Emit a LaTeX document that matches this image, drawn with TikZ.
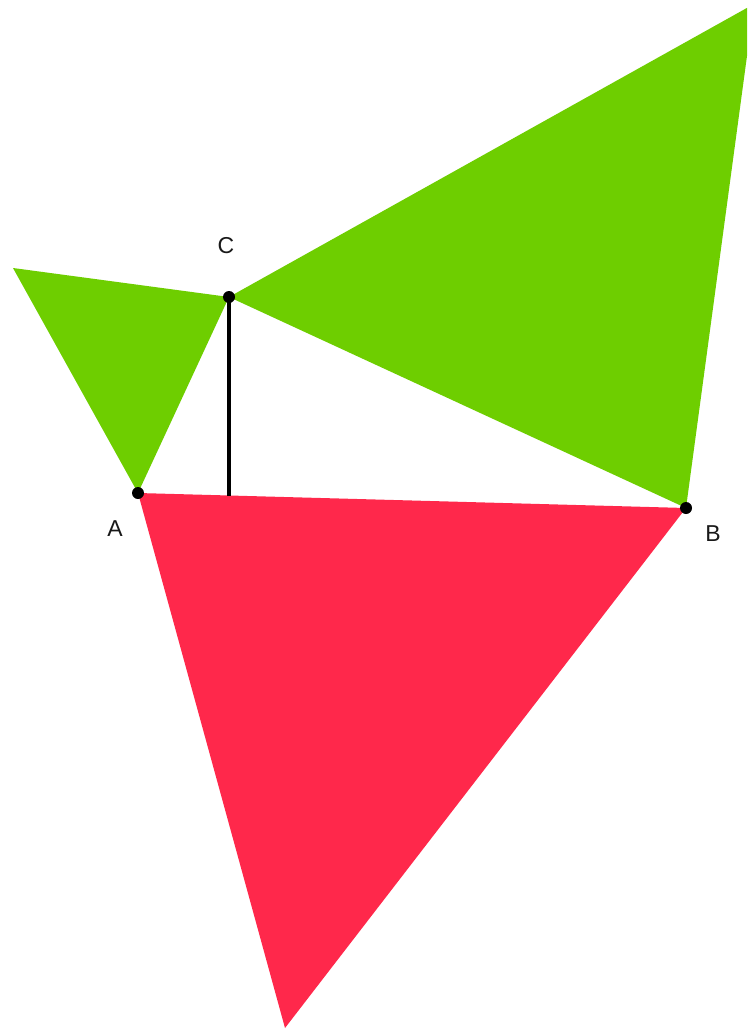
\documentclass[tikz,border=0pt]{standalone}
\usepackage{fontspec}
\setmainfont{Liberation Sans}
\definecolor{leafgreen}{RGB}{110,206,0}
\definecolor{redtri}{RGB}{255,40,75}
\begin{document}
\begin{tikzpicture}[x=1pt,y=-1pt,
  greenfill/.style={fill=leafgreen,draw=none},
  redfill/.style={fill=redtri,draw=none},
  vdot/.style={circle,fill=black,inner sep=0pt,minimum size=12pt},
  vlabel/.style={font=\fontsize{23}{26}\selectfont,text=black!90},
  seg/.style={line width=3.5pt,black}]
\useasboundingbox (0,0) rectangle (747,1032);
\clip (0,0) rectangle (747,1032);
\fill[white] (0,0) rectangle (747,1032);
% vertices
\coordinate (A) at (138,493);
\coordinate (B) at (686,508);
\coordinate (C) at (229,297);
\coordinate (P) at (13,268);
\coordinate (T) at (754,4);
\coordinate (R) at (285,1028);
\coordinate (H) at (229,496);
% triangles
\fill[greenfill] (P) -- (C) -- (A) -- cycle;
\fill[greenfill] (C) -- (T) -- (B) -- cycle;
\fill[redfill] (A) -- (B) -- (R) -- cycle;
% height
\draw[seg] (C) -- (H);
% points
\node[vdot] (dA) at (A) {};
\node[vdot] (dB) at (B) {};
\node[vdot] (dC) at (C) {};
\node[vlabel] (lA) at (115,529) {A};
\node[vlabel] (lB) at (713,534) {B};
\node[vlabel] (lC) at (226,246) {C};
\end{tikzpicture}
\end{document}
